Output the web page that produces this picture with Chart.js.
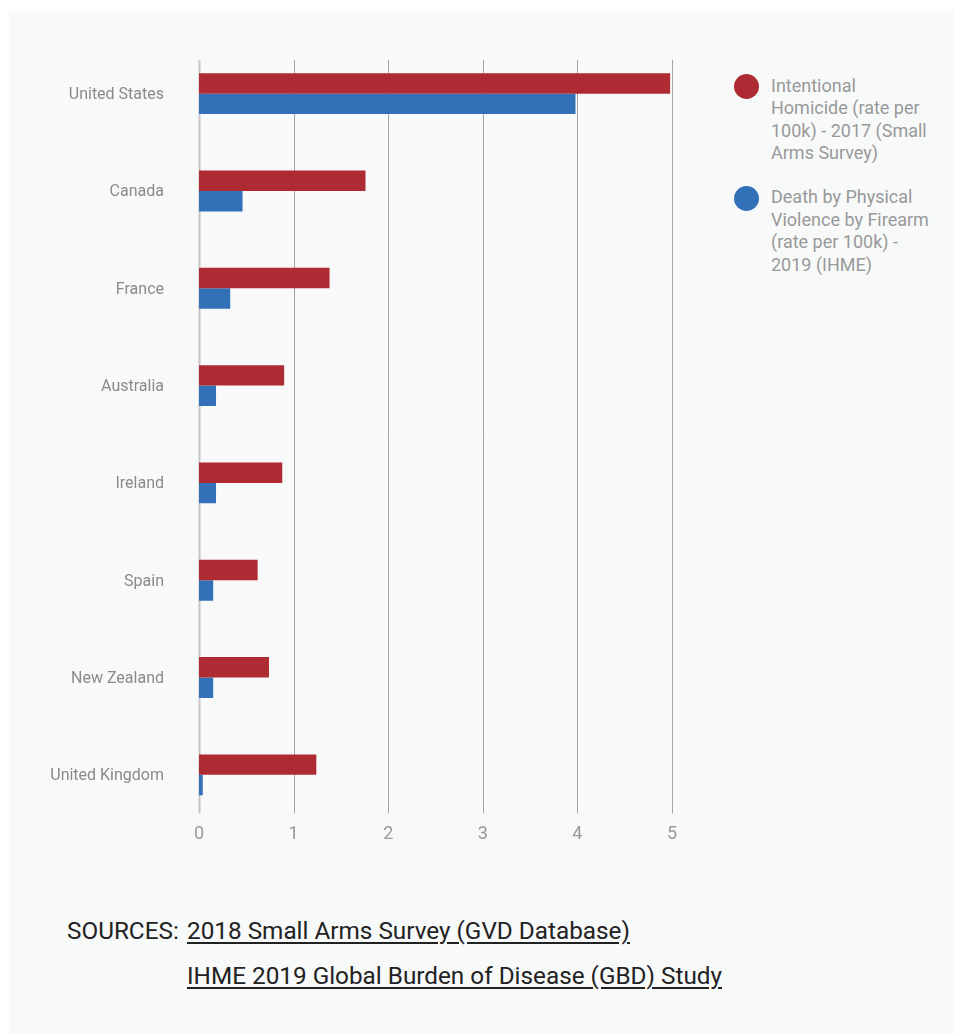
<!DOCTYPE html>
<html>
<head>
<meta charset="utf-8">
<script src="https://cdn.jsdelivr.net/npm/chart.js@4"></script>
<style>
  body { margin: 0; background: #fff; font-family: Roboto, "Noto Sans", sans-serif; }
  #panel { position: absolute; left: 9px; top: 11px; width: 945px; height: 1023px; background: #f8f9f9; }
  #chartBox { position: absolute; left: 0; top: 0; width: 711px; height: 859px; }
  #legend { position: absolute; left: 725px; top: 63.5px; width: 200px; }
  .item { position: relative; padding-left: 37px; margin-bottom: 21.5px; }
  .item .dot { position: absolute; left: 0; top: -0.5px; width: 25px; height: 25px; border-radius: 50%; }
  .item .txt { width: 162px; font-size: 18px; line-height: 22.5px; color: #999; }
  #sources { position: absolute; left: 58px; top: 897px; font-size: 24.3px; line-height: 45px; color: #222; }
  #sources .lbl { position: absolute; left: 0; top: 0; white-space: nowrap; }
  #sources .links { position: absolute; left: 120px; top: 0; white-space: nowrap; }
  #sources a { color: #222; text-decoration: underline; text-underline-offset: 3px; display: block; }
</style>
</head>
<body>
<div id="panel">
  <div id="chartBox"><canvas id="gunChart"></canvas></div>
  <div id="legend"></div>
  <div id="sources">
    <span class="lbl">SOURCES:</span>
    <div class="links">
      <a href="#">2018 Small Arms Survey (GVD Database)</a>
      <a href="#">IHME 2019 Global Burden of Disease (GBD) Study</a>
    </div>
  </div>
</div>
<script>
const countries = ['United States', 'Canada', 'France', 'Australia', 'Ireland', 'Spain', 'New Zealand', 'United Kingdom'];
const homicideRate = [4.98, 1.76, 1.38, 0.90, 0.88, 0.62, 0.74, 1.24];
const firearmDeathRate = [3.98, 0.46, 0.33, 0.18, 0.18, 0.15, 0.15, 0.04];
const xTicks = [0, 1, 2, 3, 4, 5];

const seriesNames = [
  'Intentional Homicide (rate per 100k) - 2017 (Small Arms Survey)',
  'Death by Physical Violence by Firearm (rate per 100k) - 2019 (IHME)'
];
const seriesColors = ['#ae2b33', '#3271b8'];

// gridlines stop a bit short of the plot area, like the original
const shortGrid = {
  id: 'shortGrid',
  beforeDatasetsDraw(chart) {
    const { ctx, chartArea, scales } = chart;
    ctx.save();
    scales.x.ticks.forEach((t, i) => {
      const x = Math.round(scales.x.getPixelForTick(i)) + 0.5;
      ctx.strokeStyle = t.value === 0 ? '#c6c6c6' : '#a3a3a3';
      ctx.lineWidth = t.value === 0 ? 2 : 1;
      ctx.beginPath();
      ctx.moveTo(x, chartArea.top + 15);
      ctx.lineTo(x, chartArea.bottom - 10);
      ctx.stroke();
    });
    ctx.restore();
  }
};

const ctx = document.getElementById('gunChart').getContext('2d');
const chart = new Chart(ctx, {
  type: 'bar',
  data: {
    labels: countries,
    datasets: [{
      label: seriesNames[0],
      data: homicideRate,
      backgroundColor: seriesColors[0],
    }, {
      label: seriesNames[1],
      data: firearmDeathRate,
      backgroundColor: seriesColors[1],
    }]
  },
  options: {
    indexAxis: 'y',
    responsive: true,
    maintainAspectRatio: false,
    animation: false,
    datasets: {
      bar: { categoryPercentage: 0.42, barPercentage: 1.0 }
    },
    layout: { padding: { top: 34, right: 48, bottom: 6.5, left: 0 } },
    scales: {
      x: {
        min: 0,
        max: 5,
        afterBuildTicks: s => { s.ticks = xTicks.map(v => ({ value: v })); },
        afterFit: s => { s.height = 40; },
        grid: { display: false, drawTicks: false },
        border: { display: false },
        ticks: { color: '#999', font: { family: 'Roboto', size: 18 }, padding: 0 }
      },
      y: {
        afterFit: s => {
          s.width = 190;
          // the label gap shouldn't push the plot area down
          s.paddingTop = 0;
          s.paddingBottom = 0;
        },
        grid: { display: false, drawTicks: false },
        border: { display: false },
        ticks: { color: '#8a8a8a', font: { family: 'Roboto', size: 16 }, padding: 35, labelOffset: 1.5 }
      }
    },
    plugins: {
      legend: { display: false },
      tooltip: { enabled: false }
    }
  },
  plugins: [shortGrid]
});

// legend with wrapped text, built from the datasets
const legendEl = document.getElementById('legend');
chart.data.datasets.forEach(ds => {
  const item = document.createElement('div');
  item.className = 'item';
  item.innerHTML = '<span class="dot" style="background:' + ds.backgroundColor + '"></span><div class="txt"></div>';
  item.querySelector('.txt').textContent = ds.label;
  legendEl.appendChild(item);
});
</script>
</body>
</html>
